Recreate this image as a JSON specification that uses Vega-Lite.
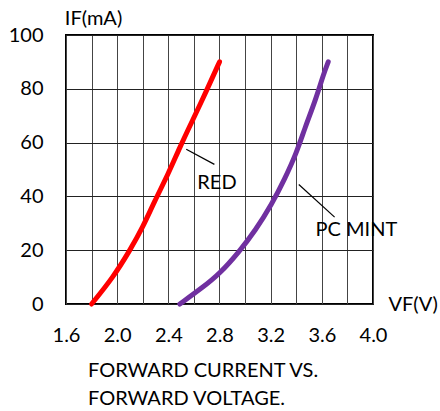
{
  "$schema": "https://vega.github.io/schema/vega-lite/v6.json",
  "width": 307,
  "height": 269,
  "autosize": "none",
  "padding": {"left": 66, "top": 35, "right": 67, "bottom": 107},
  "background": "white",
  "config": {
    "view": {"stroke": "black", "strokeWidth": 2},
    "font": "Lato",
    "text": {"font": "Lato"}
  },
  "title": {
    "text": ["FORWARD CURRENT VS.", "FORWARD VOLTAGE."],
    "orient": "bottom",
    "anchor": "start",
    "frame": "group",
    "dx": 22,
    "offset": 16,
    "font": "Lato",
    "fontSize": 20,
    "fontWeight": "normal",
    "lineHeight": 28,
    "color": "black"
  },
  "datasets": {
    "curves": [
      {"series": "RED", "v": 1.80, "i": 0},
      {"series": "RED", "v": 1.97, "i": 10},
      {"series": "RED", "v": 2.10, "i": 20},
      {"series": "RED", "v": 2.20, "i": 28.5},
      {"series": "RED", "v": 2.29, "i": 38},
      {"series": "RED", "v": 2.40, "i": 48.4},
      {"series": "RED", "v": 2.49, "i": 58.3},
      {"series": "RED", "v": 2.59, "i": 68.3},
      {"series": "RED", "v": 2.70, "i": 79.4},
      {"series": "RED", "v": 2.80, "i": 90},
      {"series": "PC MINT", "v": 2.49, "i": 0},
      {"series": "PC MINT", "v": 2.67, "i": 6.2},
      {"series": "PC MINT", "v": 2.80, "i": 11.2},
      {"series": "PC MINT", "v": 2.95, "i": 19.2},
      {"series": "PC MINT", "v": 3.08, "i": 27.3},
      {"series": "PC MINT", "v": 3.21, "i": 37.2},
      {"series": "PC MINT", "v": 3.31, "i": 46.5},
      {"series": "PC MINT", "v": 3.40, "i": 55.9},
      {"series": "PC MINT", "v": 3.47, "i": 65.8},
      {"series": "PC MINT", "v": 3.55, "i": 75.7},
      {"series": "PC MINT", "v": 3.615, "i": 85.7},
      {"series": "PC MINT", "v": 3.65, "i": 90}
    ],
    "leaders": [
      {"v": 2.54, "i": 57.5, "v2": 2.76, "i2": 51.9},
      {"v": 3.42, "i": 44.4, "v2": 3.70, "i2": 32.3}
    ],
    "labels": [
      {"label": "RED", "v": 2.78, "i": 45},
      {"label": "PC MINT", "v": 3.87, "i": 27.5}
    ]
  },
  "layer": [
    {
      "data": {"name": "curves"},
      "mark": {"type": "line", "interpolate": "basis", "strokeWidth": 5, "strokeCap": "round"},
      "encoding": {
        "x": {
          "field": "v", "type": "quantitative",
          "scale": {"domain": [1.6, 4.0], "nice": false, "zero": false},
          "axis": {
            "tickCount": 12,
            "labelExpr": "round(datum.value*10) % 4 == 0 ? format(datum.value, '.1f') : ''",
            "labelFlush": false,
            "labelOverlap": false,
            "grid": true, "gridColor": "#444", "gridWidth": 1,
            "domain": false, "ticks": false,
            "labelPadding": 21, "labelFontSize": 20, "labelFont": "Lato", "labelColor": "black",
            "title": "VF(V)", "titleFont": "Lato", "titleFontSize": 20, "titleFontWeight": "normal",
            "titleColor": "black", "titleAngle": 0, "titleAlign": "left", "titleBaseline": "middle",
            "titleX": 322, "titleY": 0
          }
        },
        "y": {
          "field": "i", "type": "quantitative",
          "scale": {"domain": [0, 100], "nice": false},
          "axis": {
            "values": [0, 20, 40, 60, 80, 100],
            "grid": true, "gridColor": "#222", "gridWidth": 1,
            "domain": false, "ticks": false,
            "labelPadding": 23, "labelFontSize": 20, "labelFont": "Lato", "labelColor": "black",
            "title": "IF(mA)", "titleFont": "Lato", "titleFontSize": 20, "titleFontWeight": "normal",
            "titleColor": "black", "titleAngle": 0, "titleAlign": "center", "titleBaseline": "middle",
            "titleX": 27, "titleY": -17
          }
        },
        "color": {
          "field": "series", "type": "nominal",
          "scale": {"domain": ["RED", "PC MINT"], "range": ["#ff0000", "#7030a0"]},
          "legend": null
        }
      }
    },
    {
      "data": {"name": "leaders"},
      "mark": {"type": "rule", "color": "black", "strokeWidth": 1.2},
      "encoding": {
        "x": {"field": "v", "type": "quantitative"},
        "y": {"field": "i", "type": "quantitative"},
        "x2": {"field": "v2"},
        "y2": {"field": "i2"}
      }
    },
    {
      "data": {"name": "labels"},
      "mark": {"type": "text", "fontSize": 20, "font": "Lato", "color": "black", "align": "center", "baseline": "middle"},
      "encoding": {
        "x": {"field": "v", "type": "quantitative"},
        "y": {"field": "i", "type": "quantitative"},
        "text": {"field": "label"}
      }
    }
  ]
}
